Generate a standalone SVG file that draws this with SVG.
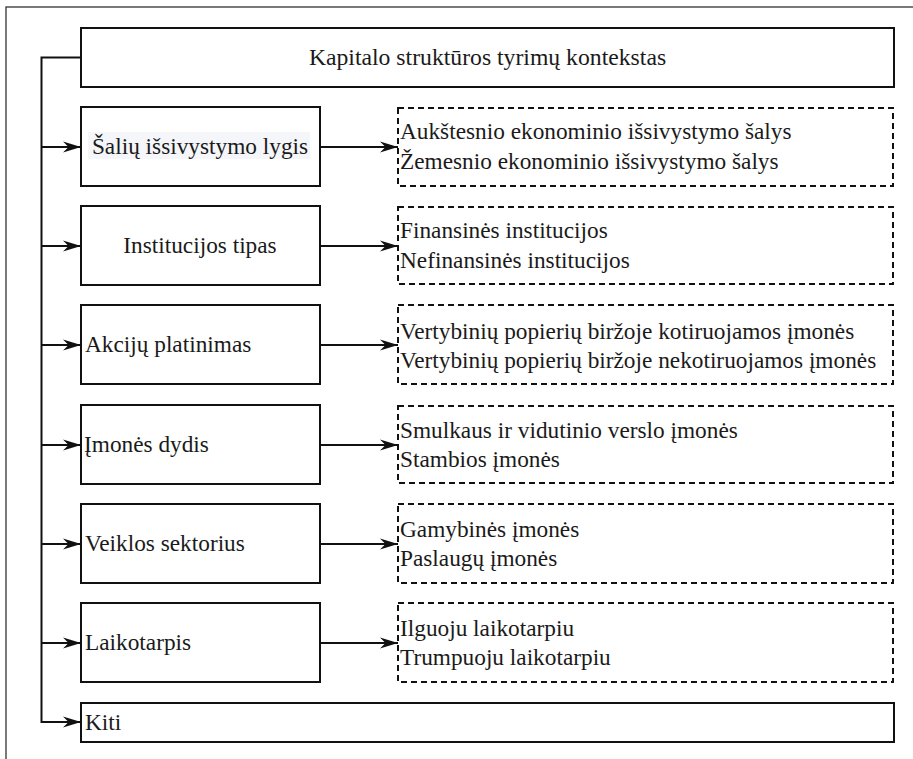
<svg xmlns="http://www.w3.org/2000/svg" width="913" height="759" viewBox="0 0 913 759">
  <style>
    .frame { fill: none; stroke: #333; stroke-width: 1.3; }
    .box { fill: #fff; stroke: #111; stroke-width: 2; }
    .dash { fill: #fff; stroke: #111; stroke-width: 2; stroke-dasharray: 6 4; }
    .link { fill: none; stroke: #111; stroke-width: 2; }
    .mid { text-anchor: middle; }
    .title { font-size: 23.7px; }
  </style>
  <defs>
    <marker id="arrow" markerUnits="userSpaceOnUse" markerWidth="19" markerHeight="14" refX="18" refY="7" orient="auto">
      <path d="M0,1.5 L18,7 L0,12.5 L5.5,7 Z" fill="#111"/>
    </marker>
  </defs>

  <rect class="frame" x="6" y="7" width="912" height="760"/>

  <g font-family="'Liberation Serif', 'Times New Roman', Times, serif" font-size="23.3" fill="#1a1a1a">
    <g id="root">
      <rect class="box" x="81" y="28" width="813" height="59"/>
      <text class="mid title" x="487.5" y="65">Kapitalo struktūros tyrimų kontekstas</text>
    </g>

    <g id="level">
      <rect class="box" x="81" y="107" width="239" height="79"/>
      <rect x="88" y="132" width="222" height="27" fill="#f4f6f9"/>
      <text class="mid" x="200" y="154">Šalių išsivystymo lygis</text>
    </g>
    <g id="level-values">
      <rect class="dash" x="398" y="108" width="495" height="78"/>
      <text x="400" y="139">Aukštesnio ekonominio išsivystymo šalys</text>
      <text x="400" y="169">Žemesnio ekonominio išsivystymo šalys</text>
    </g>

    <g id="institution">
      <rect class="box" x="81" y="206" width="239" height="79"/>
      <text class="mid" x="200" y="253">Institucijos tipas</text>
    </g>
    <g id="institution-values">
      <rect class="dash" x="398" y="207" width="495" height="77"/>
      <text x="400" y="238">Finansinės institucijos</text>
      <text x="400" y="268">Nefinansinės institucijos</text>
    </g>

    <g id="listing">
      <rect class="box" x="81" y="305" width="239" height="79"/>
      <text x="85" y="352">Akcijų platinimas</text>
    </g>
    <g id="listing-values">
      <rect class="dash" x="398" y="305" width="495" height="79"/>
      <text x="400" y="339">Vertybinių popierių biržoje kotiruojamos įmonės</text>
      <text x="400" y="368">Vertybinių popierių biržoje nekotiruojamos įmonės</text>
    </g>

    <g id="size">
      <rect class="box" x="81" y="405" width="239" height="79"/>
      <text x="84" y="452">Įmonės dydis</text>
    </g>
    <g id="size-values">
      <rect class="dash" x="398" y="406" width="495" height="77"/>
      <text x="400" y="438">Smulkaus ir vidutinio verslo įmonės</text>
      <text x="400" y="467">Stambios įmonės</text>
    </g>

    <g id="sector">
      <rect class="box" x="81" y="504" width="239" height="79"/>
      <text x="85" y="551">Veiklos sektorius</text>
    </g>
    <g id="sector-values">
      <rect class="dash" x="398" y="504" width="495" height="79"/>
      <text x="400" y="537">Gamybinės įmonės</text>
      <text x="400" y="566">Paslaugų įmonės</text>
    </g>

    <g id="period">
      <rect class="box" x="81" y="603" width="239" height="79"/>
      <text x="85" y="650">Laikotarpis</text>
    </g>
    <g id="period-values">
      <rect class="dash" x="398" y="603" width="495" height="79"/>
      <text x="400" y="636">Ilguoju laikotarpiu</text>
      <text x="400" y="665">Trumpuoju laikotarpiu</text>
    </g>

    <g id="other">
      <rect class="box" x="81" y="703" width="813" height="39"/>
      <text x="85" y="730">Kiti</text>
    </g>
  </g>

  <g id="connectors">
    <path class="link" d="M81,57.5 H41.5 V722 H81" marker-end="url(#arrow)"/>
    <path class="link" d="M41.5,147 H81" marker-end="url(#arrow)"/>
    <path class="link" d="M41.5,246 H81" marker-end="url(#arrow)"/>
    <path class="link" d="M41.5,345 H81" marker-end="url(#arrow)"/>
    <path class="link" d="M41.5,445 H81" marker-end="url(#arrow)"/>
    <path class="link" d="M41.5,544 H81" marker-end="url(#arrow)"/>
    <path class="link" d="M41.5,643 H81" marker-end="url(#arrow)"/>
    <path class="link" d="M320,147 H398" marker-end="url(#arrow)"/>
    <path class="link" d="M320,246 H398" marker-end="url(#arrow)"/>
    <path class="link" d="M320,345 H398" marker-end="url(#arrow)"/>
    <path class="link" d="M320,445 H398" marker-end="url(#arrow)"/>
    <path class="link" d="M320,544 H398" marker-end="url(#arrow)"/>
    <path class="link" d="M320,643 H398" marker-end="url(#arrow)"/>
  </g>
</svg>
